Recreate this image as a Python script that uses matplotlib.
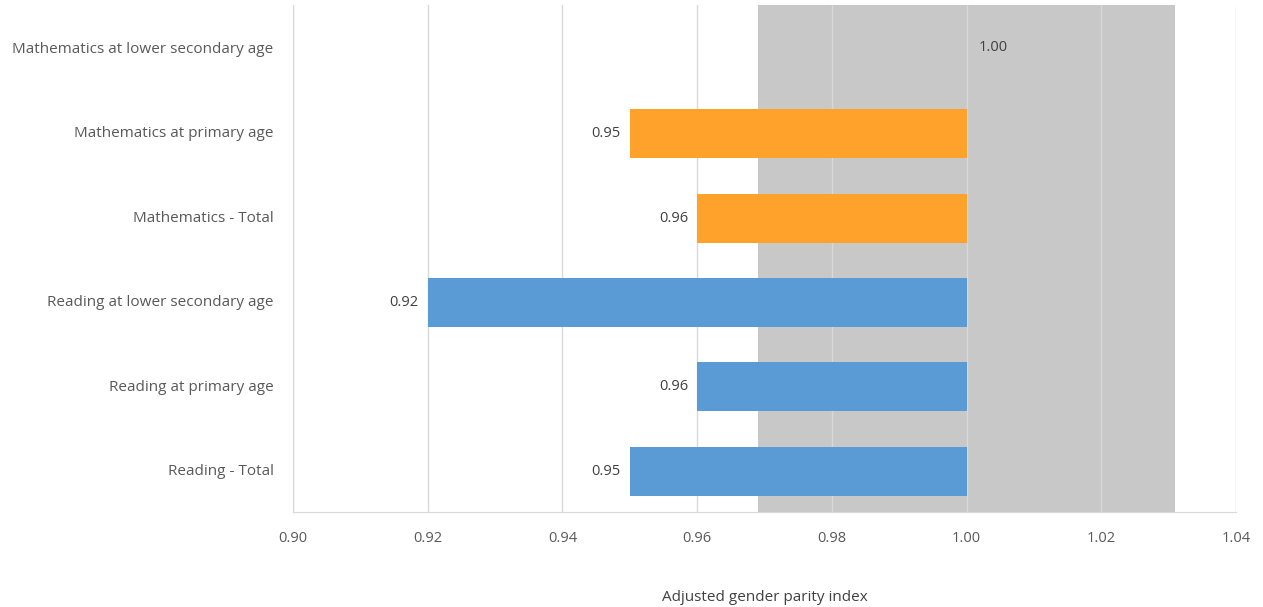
import matplotlib
matplotlib.use("Agg")
import matplotlib.pyplot as plt

categories = [
    "Mathematics at lower secondary age",
    "Mathematics at primary age",
    "Mathematics - Total",
    "Reading at lower secondary age",
    "Reading at primary age",
    "Reading - Total",
]
values = [1.00, 0.95, 0.96, 0.92, 0.96, 0.95]
subjects = ["Mathematics", "Mathematics", "Mathematics", "Reading", "Reading", "Reading"]
parity_band = (0.969, 1.031)
baseline = 1.00
xticks = [0.90, 0.92, 0.94, 0.96, 0.98, 1.00, 1.02, 1.04]

colors = {"Mathematics": "#FFA22B", "Reading": "#5B9BD5"}

plt.rcParams['font.family'] = ['Open Sans', 'DejaVu Sans']

fig = plt.figure(figsize=(12.63, 6.07), dpi=100)
ax = fig.add_axes([0.232, 0.1565, 0.7466, 0.835])

n = len(categories)
ypos = [n - 1 - i for i in range(n)]

ax.axvspan(parity_band[0], parity_band[1], color="#C8C8C8", zorder=0, lw=0)
for x in xticks:
    ax.axvline(x, color="#D9D9D9", lw=1, zorder=1)

for y, v, s in zip(ypos, values, subjects):
    ax.barh(y - 0.02, v - baseline, left=baseline, height=0.58, color=colors[s], zorder=2)
    if v < baseline:
        ax.annotate(f"{v:.2f}", (v, y - 0.02), xytext=(-6.5, 0), textcoords="offset points",
                    ha="right", va="center", fontsize=10.5, color="#404040")
    else:
        ax.annotate(f"{v:.2f}", (v, y), xytext=(8.5, 0), textcoords="offset points",
                    ha="left", va="center", fontsize=10.5, color="#404040")

ax.set_xlim(0.90, 1.04)
ax.set_ylim(-0.5, n - 0.5)
ax.set_xticks(xticks)
ax.set_xticklabels([f"{x:.2f}" for x in xticks])
ax.set_yticks(ypos)
ax.set_yticklabels(categories)
ax.tick_params(axis="both", length=0, labelsize=10.5, labelcolor="#595959")
ax.tick_params(axis="y", pad=14, labelsize=11)
ax.tick_params(axis="x", pad=14)
ax.set_xlabel("Adjusted gender parity index", fontsize=11, color="#404040", labelpad=31)

for side in ["top", "right"]:
    ax.spines[side].set_visible(False)
ax.spines["left"].set_color("#D9D9D9")
ax.spines["bottom"].set_color("#D9D9D9")

fig.savefig("out.png", dpi=100, facecolor="white")
